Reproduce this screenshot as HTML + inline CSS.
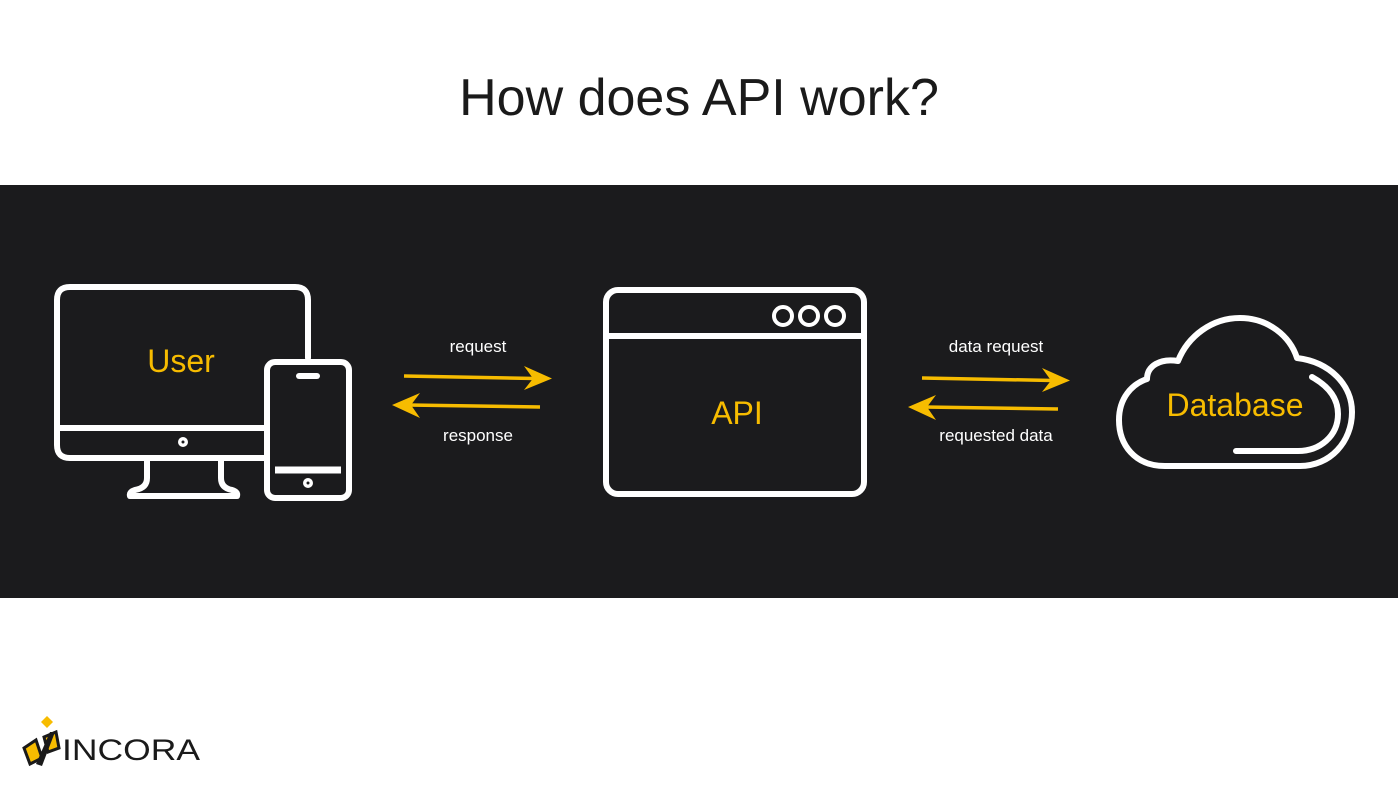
<!DOCTYPE html>
<html><head><meta charset="utf-8"><style>
html,body{margin:0;padding:0;background:#fff;width:1398px;height:788px;overflow:hidden}
</style></head><body>
<svg width="1398" height="788" viewBox="0 0 1398 788" xmlns="http://www.w3.org/2000/svg">
<rect x="0" y="0" width="1398" height="788" fill="#fff"/>
<text x="699" y="115" text-anchor="middle" font-family="Liberation Sans, sans-serif" font-size="52" fill="#1a1a1a">How does API work?</text>
<rect x="0" y="185" width="1398" height="413" fill="#1b1b1d"/>
<g fill="none" stroke="#fff" stroke-width="6" stroke-linejoin="round" stroke-linecap="round">
 <!-- monitor -->
 <path d="M265,458 L70,458 Q57,458 57,445 L57,300 Q57,287 70,287 L295,287 Q308,287 308,300 L308,358"/>
 <line x1="57" y1="428" x2="265" y2="428"/>
 <path d="M147,459 L147,478 Q147,488 135,490 Q129,492 130,496 L237,496 Q238,492 232,490 Q221,488 221,478 L221,459"/>
 <!-- phone -->
 <rect x="267" y="362" width="82" height="136" rx="8"/>
 <line x1="299" y1="376" x2="317" y2="376"/>
 <!-- api window -->
 <rect x="606" y="290" width="258" height="204" rx="12"/>
 <line x1="606" y1="336" x2="864" y2="336"/>
 <circle cx="783" cy="316" r="9" stroke-width="4"/>
 <circle cx="809" cy="316" r="9" stroke-width="4"/>
 <circle cx="835" cy="316" r="9" stroke-width="4"/>
 <!-- cloud -->
 <path d="M1165,466 C1135,466 1119,445 1119,420 C1119,398 1132,384 1147,379 C1147,366 1160,358 1178,361 C1188,336 1212,318 1240,318 C1268,318 1290,336 1297,358 C1330,362 1352,385 1352,412 C1352,442 1330,466 1300,466 Z"/>
 <path d="M1312,377 C1330,387 1338,400 1338,414 C1338,436 1320,451 1298,451 L1236,451"/>
</g>
<line x1="275" y1="470" x2="341" y2="470" stroke="#fff" stroke-width="7"/>
<circle cx="183" cy="442" r="5" fill="#fff"/><circle cx="183" cy="442" r="1.5" fill="#1b1b1d"/>
<circle cx="308" cy="483" r="5" fill="#fff"/><circle cx="308" cy="483" r="1.5" fill="#1b1b1d"/>
<g font-family="Liberation Sans, DejaVu Sans, sans-serif" fill="#f7bc00" text-anchor="middle" font-size="32">
 <text x="181" y="372">User</text>
 <text x="737" y="424">API</text>
 <text x="1235" y="416">Database</text>
</g>
<g font-family="Liberation Sans, DejaVu Sans, sans-serif" fill="#fff" text-anchor="middle" font-size="17">
 <text x="478" y="352">request</text>
 <text x="478" y="441">response</text>
 <text x="996" y="352">data request</text>
 <text x="996" y="441">requested data</text>
</g>
<g stroke="#f7bc00" stroke-width="3.5" fill="#f7bc00">
 <line x1="404" y1="376" x2="535" y2="378.5"/>
 <path d="M552,378.5 L524,366 L533,378.5 L524,390 Z" stroke="none"/>
 <line x1="540" y1="407" x2="408" y2="405"/>
 <path d="M392,405 L420,393 L411,405 L420,418 Z" stroke="none"/>
 <line x1="922" y1="378" x2="1053" y2="380.5"/>
 <path d="M1070,380.5 L1042,368 L1051,380.5 L1042,392 Z" stroke="none"/>
 <line x1="1058" y1="409" x2="924" y2="407"/>
 <path d="M908,407 L936,395 L927,407 L936,420 Z" stroke="none"/>
</g>
<!-- logo -->
<path d="M47,716 L53,722 L47,728 L41,722 Z" fill="#f7bc00"/>
<path d="M24,748 L36,740 L42,758 L30,764 Z" fill="#f7bc00" stroke="#1a1a1a" stroke-width="3"/>
<path d="M44,737 L56,732 L59,748 L48,752 Z" fill="#f7bc00" stroke="#1a1a1a" stroke-width="3"/>
<path d="M36,764 L50,732 L55,732 L42,766 Z" fill="#1a1a1a"/>
<text x="62" y="760" font-family="Liberation Sans, sans-serif" font-size="30" fill="#1a1a1a" textLength="138" lengthAdjust="spacingAndGlyphs">INCORA</text>
</svg>
</body></html>
